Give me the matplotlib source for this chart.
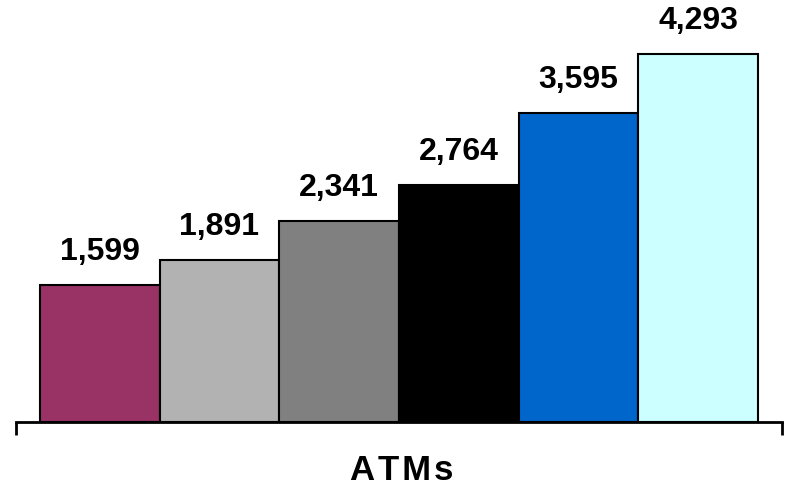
import matplotlib.pyplot as plt
import numpy as np

values = [1599, 1891, 2341, 2764, 3595, 4293]
labels = ['1,599', '1,891', '2,341', '2,764', '3,595', '4,293']
colors = ['#993366', '#B2B2B2', '#808080', '#000000', '#0066CC', '#CCFFFF']

plt.rcParams['font.family'] = ['Liberation Sans', 'DejaVu Sans']

fig = plt.figure(figsize=(8, 4.91), dpi=100)
ax = fig.add_axes([0.02, 0.1405, 0.9575, 0.839])

x = np.arange(len(values))
ax.bar(x, values, width=1.0, color=colors, edgecolor='black', linewidth=1.5, zorder=2)

for xi, v, lab in zip(x, values, labels):
    ax.annotate(lab, xy=(xi, v), xytext=(0, 13), textcoords='offset points',
                ha='center', va='bottom', fontsize=23, fontweight='bold')

ax.set_xlim(-0.7, 5.7)
ax.set_ylim(0, 4800)

for s in ['top', 'right', 'left']:
    ax.spines[s].set_visible(False)
ax.spines['bottom'].set_linewidth(2)
ax.set_yticks([])
ax.set_xticks([-0.7, 5.7])
ax.set_xticklabels(['', ''])
ax.tick_params(axis='x', direction='out', length=9, width=2)

fig.text(0.502, 0.008, 'A T M s'.replace(' ', '\u200a'), ha='center', va='bottom',
         fontsize=25, fontweight='bold')

fig.savefig('out.png', dpi=100)
